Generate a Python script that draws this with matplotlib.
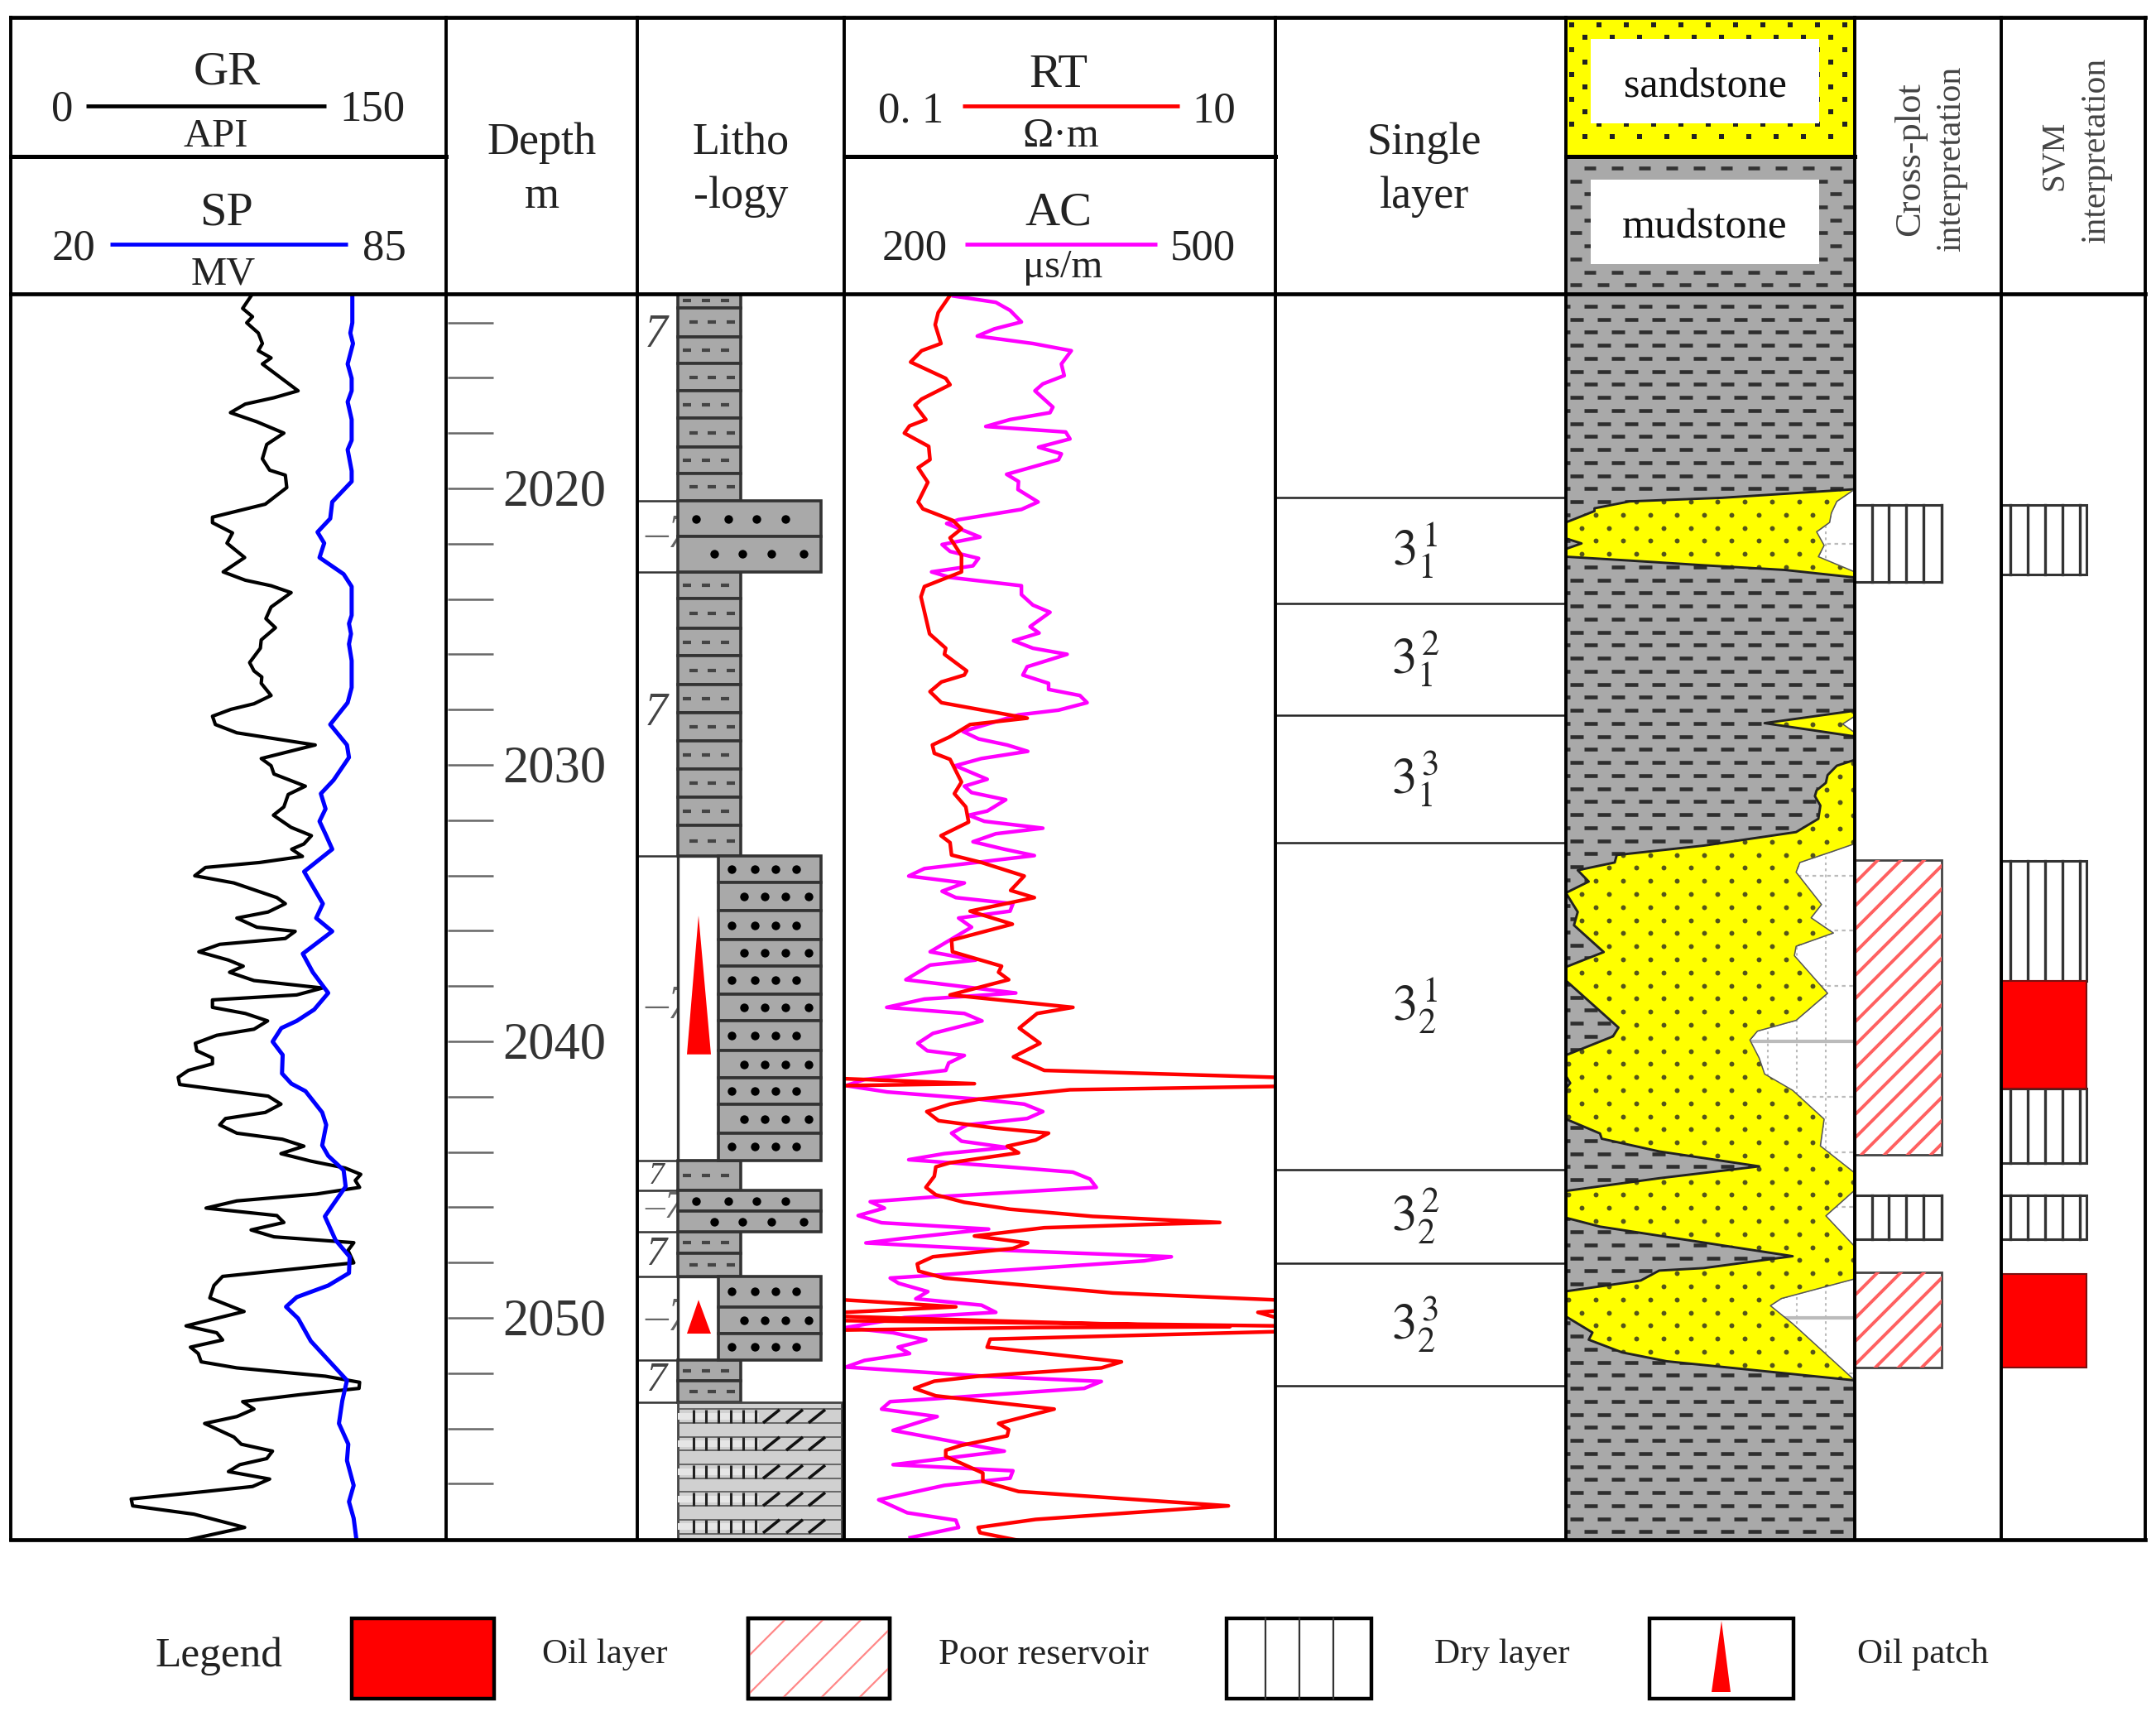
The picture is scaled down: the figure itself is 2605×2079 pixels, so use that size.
import numpy as np
import matplotlib
matplotlib.use('Agg')
import matplotlib.pyplot as plt
from matplotlib.patches import Rectangle, Polygon

plt.rcParams['font.family'] = ['Liberation Serif', 'DejaVu Serif']
plt.rcParams['mathtext.fontset'] = 'stix'

W, H = 2605, 2079
D_TOP, D_BOT = 2012.964, 2058.024
PX_PER_M = 33.4

# ---------- well log curves ----------
gr_depth = [2013.04,2013.49,2013.79,2014.01,2014.38,2014.76,2015.02,2015.28,2015.5,2016.47,2016.72,2016.95,2017.26,2017.59,2018.0,2018.41,2018.93,2019.34,2019.52,2019.97,2020.57,2021.04,2021.24,2021.61,2021.98,2022.5,2023.02,2023.32,2023.52,2023.77,2024.29,2024.71,2025.04,2025.48,2025.78,2026.3,2026.6,2026.82,2027.05,2027.49,2027.79,2027.99,2028.24,2028.54,2028.84,2029.28,2029.77,2030.03,2030.33,2030.77,2031.07,2031.52,2031.82,2032.26,2032.56,2032.86,2033.05,2033.31,2033.53,2033.71,2034.01,2034.27,2034.8,2035.02,2035.32,2035.54,
            2035.87,2036.02,2036.28,2036.49,2036.76,2037.06,2037.28,2037.5,2037.8,2038.07,2038.32,2038.5,2038.77,2038.99,2039.26,2039.56,2039.78,2040.07,2040.34,2040.6,2040.81,2041.05,2041.3,2041.56,2041.98,2042.27,2042.57,2042.79,2043.02,2043.32,2043.54,2043.79,2044.06,2044.33,2044.58,2044.81,2045.03,2045.28,2045.52,2045.77,2046.03,2046.3,2046.55,2046.82,2047.07,2047.28,2047.56,2048.01,2048.5,2048.83,2049.28,2049.77,2050.29,2050.54,2050.8,2051.06,2051.29,2051.59,2051.81,2052.11,2052.33,2052.55,2052.78,2053.03,2053.3,2053.57,2053.82,2054.31,2054.57,2054.82,2055.09,2055.31,2055.56,2055.83,2056.1,2056.28,2056.55,2056.8,2057.1,2057.58,2058.07]
gr_api = [82.8,79.9,83.3,81.3,85.3,86.7,85.3,89.7,86.7,99.0,90.7,80.8,75.7,84.8,94.1,88.2,86.7,89.2,94.6,95.1,87.7,69.5,69.5,76.4,74.5,80.6,73.2,80.8,89.7,96.6,89.7,87.9,91.2,86.3,86.0,82.3,83.8,86.5,86.3,89.7,83.8,75.9,69.5,70.5,77.9,104.9,86.3,89.7,90.7,101.5,95.6,94.1,90.5,96.6,103.6,101.0,96.8,100.5,85.8,67.1,63.4,76.9,91.7,94.6,88.7,77.9,
          84.8,98.0,94.6,72.0,64.8,75.0,80.1,75.4,83.8,107.4,98.5,69.5,69.5,80.8,88.5,83.8,71.0,63.6,64.1,69.5,69.5,61.2,57.7,58.2,88.7,93.1,87.7,74.0,72.0,77.9,93.6,101.0,93.1,103.4,115.2,120.6,118.7,120.2,105.4,77.9,67.3,91.7,94.1,82.8,90.7,118.2,116.2,118.2,73.0,70.0,68.6,80.4,60.4,71.0,73.0,61.9,64.6,65.6,77.9,108.4,120.2,120.0,99.5,79.9,83.8,77.9,66.8,76.9,79.4,90.2,88.2,78.9,75.0,89.2,83.3,67.1,41.5,42.0,63.1,80.6,59.2]

sp_depth = [2013.04,2014.01,2014.38,2014.76,2015.5,2016.02,2016.47,2016.87,2017.51,2018.26,2018.6,2019.37,2019.75,2020.49,2021.09,2021.58,2021.98,2022.5,2023.1,2023.55,2024.59,2024.89,2025.26,2025.63,2026.23,2027.2,2027.75,2028.54,2029.28,2029.73,2030.55,2031.04,2031.59,2032.04,2032.56,2033.05,2033.86,2035.02,2035.54,
            2036.02,2036.83,2037.5,2038.25,2038.85,2039.26,2039.52,2040.01,2040.49,2041.16,2041.53,2041.8,2042.57,2043.02,2043.76,2044.14,2044.66,2045.25,2046.33,2047.19,2047.79,2048.38,2048.83,2049.25,2049.6,2050.02,2050.84,2052.26,2053.0,2053.82,2054.57,2055.16,2056.06,2056.65,2057.25,2058.0]
sp_mv = [71.0,71.0,70.7,71.1,70.3,70.9,70.9,70.3,70.9,70.9,70.3,70.9,70.9,68.0,67.7,65.8,66.8,66.1,69.7,70.9,70.9,70.5,70.8,70.5,70.9,70.9,70.3,67.7,70.2,70.5,68.2,66.3,67.0,66.1,67.1,68.0,63.8,66.6,65.6,
         68.0,63.6,65.1,67.4,65.3,62.7,60.4,59.1,60.6,60.5,61.9,64.0,66.5,67.1,66.5,67.4,69.7,70.0,66.9,68.5,70.6,70.5,67.4,62.7,61.1,62.9,64.8,70.2,69.5,69.0,70.4,70.2,71.2,70.5,71.2,71.6]

nan = float('nan')
# RT is stored as log10(ohm.m); it wraps round the 0.1-10 scale, so it has breaks
rt_depth = [2013.04,2013.64,2014.08,2014.76,2015.02,2015.43,2016.02,2016.25,2016.77,2016.99,2017.51,2017.74,2018.0,2018.48,2018.96,2019.25,2019.78,2020.49,2020.74,2021.16,2021.46,2021.79,2022.43,2023.02,2023.55,2023.92,2025.26,2025.78,2026.0,2026.6,2026.75,2027.0,2027.35,2027.75,2028.31,2028.54,2028.98,2029.28,2029.58,2029.8,2030.62,2031.04,2031.52,2032.07,2032.56,2032.81,2033.26,2033.53,2034.02,2034.54,2034.8,2035.29,2035.76,
            2036.34,2036.76,2037.28,2037.5,2037.77,2038.32,2038.77,2038.99,2039.52,2040.07,2040.56,2041.05,2041.3,nan,
            2041.35,2041.53,2041.6,nan,
            2041.63,2041.75,2042.09,2042.27,2042.54,2042.87,2043.14,2043.32,2043.57,2043.79,2044.03,2044.18,2044.39,2044.54,2044.88,2045.28,2045.55,2045.82,2046.07,2046.33,2046.55,2046.62,2046.74,2047.04,2047.29,2047.49,2047.79,2048.05,2048.31,2048.56,2049.1,2049.35,nan,
            2049.35,2049.6,2049.8,nan,
            2049.75,2049.8,2049.98,nan,
            2049.95,2050.21,2050.32,2050.35,2050.44,nan,
            2050.1,2050.29,nan,
            2050.5,2050.77,2051.06,2051.59,2051.81,2052.11,2052.29,2052.55,2052.82,2053.3,2053.82,2054.04,2054.27,2054.61,2054.79,2055.01,2055.61,2055.91,2056.28,2056.8,2057.29,2057.58,2057.77,2058.07]
rt_log10 = [-0.511,-0.564,-0.578,-0.551,-0.641,-0.692,-0.529,-0.509,-0.641,-0.672,-0.621,-0.697,-0.721,-0.608,-0.602,-0.657,-0.612,-0.657,-0.635,-0.496,-0.456,-0.509,-0.456,-0.456,-0.628,-0.644,-0.604,-0.529,-0.535,-0.432,-0.443,-0.549,-0.602,-0.549,-0.151,-0.416,-0.509,-0.591,-0.582,-0.509,-0.456,-0.489,-0.436,-0.423,-0.551,-0.509,-0.502,-0.363,-0.165,-0.228,-0.118,-0.416,-0.220,
            -0.502,-0.498,-0.270,-0.284,-0.237,-0.509,0.061,-0.105,-0.188,-0.092,-0.215,-0.072,1.0,nan,
            -1.0,-0.396,-1.0,nan,
            1.0,0.047,-0.376,-0.509,-0.617,-0.562,-0.297,-0.052,-0.112,-0.244,-0.191,-0.323,-0.509,-0.575,-0.582,-0.621,-0.575,-0.443,-0.231,0.153,0.742,0.418,-0.072,-0.396,-0.149,-0.218,-0.588,-0.661,-0.654,-0.535,0.246,1.0,nan,
            -1.0,-0.482,-1.0,nan,
            1.0,0.919,1.0,nan,
            -1.0,0.153,0.789,-0.112,-1.0,nan,
            -1.0,1.0,nan,
            1.0,-0.323,-0.337,0.286,0.193,-0.376,-0.582,-0.674,-0.575,-0.026,-0.284,-0.237,-0.244,-0.456,-0.529,-0.529,-0.357,-0.357,-0.191,0.782,-0.112,-0.379,-0.370,-0.178]

ac_depth = [2013.04,2013.27,2013.56,2013.98,2014.23,2014.49,2014.76,2015.02,2015.5,2015.92,2016.22,2016.47,2017.06,2017.26,2017.51,2017.76,2017.96,2018.21,2018.51,2018.75,2018.96,2019.49,2019.75,2020.04,2020.49,2020.76,2021.13,2021.27,2021.76,2022.03,2022.28,2022.53,2022.8,2023.02,2023.22,2023.52,2023.84,2024.22,2024.48,2025.0,2025.23,2025.51,2025.78,2026.0,2026.45,2026.75,2027.05,2027.27,2027.49,2027.75,2028.02,2028.19,2028.79,2029.06,2029.28,2029.51,2029.77,2030.03,2030.52,2030.77,2031.0,2031.26,2031.67,2031.82,2032.04,2032.29,2032.49,2032.78,2033.05,2033.28,2033.75,2034.02,2034.27,2034.57,2034.8,2035.02,2035.29,2035.54,
            2035.87,2036.76,2037.06,2037.24,2037.77,2038.25,2038.47,2038.77,2038.99,2039.26,2039.71,2040.07,2040.34,2040.51,2040.78,2041.05,2041.38,2041.6,2041.83,2042.09,2042.27,2042.54,2042.79,2043.02,2043.32,2043.61,2043.84,2044.06,2044.28,2044.54,2044.73,2044.98,2045.28,2045.63,2045.8,2046.03,2046.3,2046.56,2046.79,2047.12,2047.29,2047.56,2047.79,2047.94,2048.46,2048.56,2048.75,2049.05,2049.31,2049.54,2049.8,2049.99,2050.35,2050.54,2050.8,2051.06,2051.29,2051.54,2051.78,2052.11,2052.3,2052.55,2052.93,2053.03,2053.3,2053.57,2054.07,2054.82,2055.31,2055.53,2055.8,2056.06,2056.58,2057.05,2057.32,2057.58,2057.95]
ac_us = [276,305.5,315.4,323.3,304.5,292.6,331.3,358,351.1,353.1,338.2,332.7,345.2,343.2,315.4,298.5,354.1,357.1,335.2,351.1,349.1,313,321.3,320.9,334.9,323.3,279.6,271.3,294.5,268.1,273.7,293.5,289.6,260.8,273.7,323.3,323.3,331.3,343.2,329.3,335.6,317.8,331.3,355.1,327.3,324.3,342.2,342.2,364,369,349.1,321.3,282.6,293.5,313.4,327.7,295.5,277.3,299.5,283.6,288.6,312.4,299.5,286.6,297.5,338.2,305.5,289.6,311.4,332.3,255.8,244.9,283.6,268.1,277.7,317.4,315.4,279.6,
         288.6,259.8,291.5,259.8,242.9,319.4,255.8,229.6,283.6,295.9,261.8,251.2,257.8,283.6,272.7,270.7,214.1,201.2,230,293.5,325.3,338.2,327.3,285.6,274.7,281.6,313.4,269.7,244.9,313.4,359.1,371,375.4,261.8,218.1,228,209.7,226,300.5,241.9,215.1,313.4,427.6,408.7,261.8,232,237.9,258.2,249.8,295.5,305.5,241.9,201.2,234,256.8,237.5,245.5,214.1,201.2,297.5,378.9,367,261.8,232,226,264.7,234,311.4,234,317.4,315.4,269.7,224,243.9,277.7,279.6,245.9]

# ---------- depth axis ----------
depth_minor = list(range(2014, 2058, 2))
depth_major = [2020, 2030, 2040, 2050]

# ---------- single layers ----------
layer_bounds = [2020.33, 2024.16, 2028.2, 2032.81, 2044.64, 2048.02, 2052.46]
layer_labels = [r'$3_{1}^{\,1}$', r'$3_{1}^{\,2}$', r'$3_{1}^{\,3}$', r'$3_{2}^{\,1}$', r'$3_{2}^{\,2}$', r'$3_{2}^{\,3}$']

# ---------- sand bodies in the sand/mud profile (percent of the track) ----------
b1_left_pct = [100,54.1,22.1,9.9,9.9,0,0,5.4,0,0,22.1,47.7,75.9,100]
b1_left_d = [2020.03,2020.34,2020.47,2020.72,2020.82,2021.23,2021.81,2021.99,2022.19,2022.47,2022.61,2022.78,2022.95,2023.22]
b1_right_pct = [100,93.8,91.9,91.3,86.8,89.4,87.4,100,100]
b1_right_d = [2020.03,2020.47,2020.89,2021.23,2021.57,2022.06,2022.47,2023.02,2023.22]
b2_left_pct = [100,68.8,100]
b2_left_d = [2028.04,2028.49,2028.97]
b2_right_pct = [100,100,95.8,100,100]
b2_right_d = [2028.04,2028.24,2028.52,2028.83,2028.97]
b3_left_pct = [100,93.8,90.6,90,86.8,86.2,88.1,87.4,79.7,47.7,17.6,16.9,4.1,7.9,0,4.1,2.8,13.1,0,0,18.2,16.3,0,0,1.5,0,0,11.8,12.4,32.3,66.9,32.3,0,0,11.8,78.5,47.7,32.3,25.9,0,0,9.2,7.9,19.5,34.9,100]
b3_left_d = [2029.82,2030.03,2030.37,2030.65,2030.92,2031.13,2031.47,2031.95,2032.43,2032.92,2033.26,2033.53,2033.81,2034.22,2034.63,2035.32,2035.8,2036.77,2037.31,2037.8,2039.5,2039.82,2040.5,2041.25,2041.51,2041.7,2042.81,2043.33,2043.52,2043.98,2044.52,2044.95,2045.41,2046.38,2046.7,2047.77,2048.2,2048.29,2048.65,2049.04,2049.95,2050.53,2050.79,2051.25,2051.57,2052.26]
b3_right_pct = [100,100,92.6,81,79.7,88.5,84.9,92.6,79.7,79.1,90.6,79.7,66.3,63.7,66.9,68.8,78.5,89.4,88.1,100,100,90,100,100,74.6,70.8,78.5,100]
b3_right_d = [2029.82,2032.85,2033.12,2033.53,2033.88,2035.05,2035.53,2036.08,2036.56,2036.9,2038.26,2039.24,2039.63,2039.95,2040.6,2041.18,2041.77,2042.81,2043.78,2044.76,2045.38,2046.31,2047.42,2048.59,2049.3,2049.56,2050.21,2052.26]

# ---------- lithology column: row boundaries of each layer ----------
shale_rows = [[2012.964,2013.47,2014.52,2015.48,2016.47,2017.46,2018.5,2019.46,2020.45],
              [2023.02,2023.98,2025.06,2026.05,2027.1,2028.11,2029.13,2030.15,2031.17,2032.19,2033.29],
              [2044.31,2045.39],
              [2046.89,2047.67,2048.5],
              [2051.53,2052.28,2053.05]]
sand_full_rows = [[2020.45,2021.74,2023.02],[2045.39,2046.14,2046.89]]
sand_oil_rows = [[2033.29,2034.25,2035.27,2036.32,2037.28,2038.29,2039.25,2040.33,2041.32,2042.28,2043.32,2044.31],
                 [2048.5,2049.6,2050.57,2051.53]]
oil_patch_top = [2035.45, 2049.35]
oil_patch_base = [2040.47, 2050.57]
limy_top, limy_base = 2053.05, 2058.024
limy_rows = [2053.56, 2054.55, 2055.57, 2056.56, 2057.54]
lith_seven_d = [2014.46, 2028.14, 2044.88, 2047.72, 2052.28]
lith_seven_size = [40, 40, 27, 36, 36]
lith_dash_d = [2021.71, 2038.74, 2046.05, 2050.03]
lith_dash_size = [40, 40, 34, 40]
lith_box_lines = [2020.45, 2023.02, 2033.29, 2044.31, 2045.39, 2046.89, 2048.5, 2051.53, 2053.05]

# ---------- interpretation results ----------
cross_top = [2020.61, 2033.44, 2045.57, 2048.35]
cross_base = [2023.38, 2044.10, 2047.16, 2051.80]
cross_kind = ['dry', 'poor', 'dry', 'poor']
svm_top = [2020.61, 2033.47, 2037.80, 2041.70, 2045.57, 2048.40]
svm_base = [2023.11, 2037.80, 2041.70, 2044.40, 2047.16, 2051.80]
svm_kind = ['dry', 'dry', 'oil', 'dry', 'dry', 'oil']

legend_items = ['Oil layer', 'Poor reservoir', 'Dry layer', 'Oil patch']

RED, YELLOW, MUD = '#ff0000', '#ffff00', '#a9a9a9'

fig = plt.figure(figsize=(W / 100, H / 100), dpi=100, facecolor='white')


def track(x0, x1, xlim, z, xscale='linear'):
    ax = fig.add_axes([x0 / W, 1 - 1860 / H, (x1 - x0) / W, (1860 - 355) / H], zorder=z)
    if xscale == 'log':
        ax.set_xscale('log')
    ax.set_xlim(*xlim)
    ax.set_ylim(D_BOT, D_TOP)
    ax.axis('off')
    return ax


# ---------- band axes: x in image pixels, y in depth ----------
band = track(0, W, (0, W), 1)
for d in depth_minor:
    band.plot([541, 596], [d, d], color='#666666', lw=1.8, solid_capstyle='butt')
for d in depth_major:
    band.text(670, d + 0.15, str(d), fontsize=45, color='#333333', ha='center', va='center')
for d in layer_bounds:
    band.plot([1541, 1892], [d, d], color='#222222', lw=1.8)
mids = [(a + b) / 2 for a, b in zip(layer_bounds[:-1], layer_bounds[1:])]
for lab, d in zip(layer_labels, mids):
    band.text(1710, d, lab, fontsize=44, color='#222222', ha='center', va='center')

# lithology column
for d, s in zip(lith_seven_d, lith_seven_size):
    band.text(793, d, '7', fontsize=s, style='italic', color='#444444', ha='center', va='center', zorder=1)
for d, s in zip(lith_dash_d, lith_dash_size):
    band.text(779, d, '–7', fontsize=s, style='italic', color='#666666', ha='left', va='center', zorder=1)


def rows(x0, x1, edges, kind):
    for i, (a, b) in enumerate(zip(edges[:-1], edges[1:])):
        band.add_patch(Rectangle((x0, a), x1 - x0, b - a, fc=MUD, ec='#333333', lw=2.6, zorder=3))
        m = (a + b) / 2
        if kind == 'shale':
            xs = [838, 860, 883] if i % 2 else [830, 853, 876]
            for x in xs:
                band.plot([x - 5, x + 5], [m, m], color='#444444', lw=3.0, zorder=4, solid_capstyle='butt')
        else:
            if x0 < 850:
                xs = [863, 897, 932, 971] if i % 2 else [841, 880, 914, 949]
            else:
                xs = [899, 924, 949, 977] if i % 2 else [884, 912, 937, 962]
            band.scatter(xs, [m] * 4, s=56, color='black', zorder=4, lw=0)


for e in shale_rows:
    rows(819, 895, e, 'shale')
for e in sand_full_rows:
    rows(819, 992, e, 'sand')
for e in sand_oil_rows:
    band.add_patch(Rectangle((819, e[0]), 49, e[-1] - e[0], fc='white', ec='#333333', lw=2.4, zorder=2))
    rows(868, 992, e, 'sand')
for a, b in zip(oil_patch_top, oil_patch_base):
    band.add_patch(Polygon([(844, a), (830, b), (859, b)], closed=True, fc=RED, ec='none', zorder=5))
for d in lith_box_lines:
    band.plot([770, 819], [d, d], color='#333333', lw=1.8, zorder=2)

band.add_patch(Rectangle((819, limy_top), 198, limy_base - limy_top, fc='#d0d0d0', ec='#444444', lw=2, zorder=3))
for d in np.arange(limy_top + 0.25, limy_base, 0.5):
    band.plot([819, 1017], [d, d], color='#555555', lw=1.2, zorder=4)
for d in limy_rows:
    band.fill_between([819, 917], d - 0.12, d + 0.12, color='#e6e6e6', zorder=4, lw=0)
    for x in [838, 853, 868, 883, 898, 913]:
        band.plot([x, x], [d - 0.24, d + 0.24], color='#222222', lw=2.2, zorder=5, solid_capstyle='butt')
    for x in [932, 960, 987]:
        band.plot([x - 10, x + 10], [d + 0.24, d - 0.24], color='#111111', lw=2.6, zorder=5, solid_capstyle='butt')


def poor_box(ax, x0, x1, y0, y1, to_px, step, color='#ff6060', lw=2.8):
    r = Rectangle((x0, y0), x1 - x0, y1 - y0, fc='white', ec='#444444', lw=2, zorder=3)
    ax.add_patch(r)
    hpx = abs(y1 - y0) * to_px
    for c in np.arange(-hpx, x1 - x0, step):
        ln, = ax.plot([x0 + c, x0 + c + hpx], [y1, y0], color=color, lw=lw, zorder=4)
        ln.set_clip_path(r)


def dry_box(ax, x0, x1, y0, y1, xs, lw=2.4):
    ax.add_patch(Rectangle((x0, y0), x1 - x0, y1 - y0, fc='white', ec='#333333', lw=2.2, zorder=3))
    for x in xs:
        ax.plot([x, x], [y0, y1], color='#333333', lw=lw, zorder=4)


for a, b, k in zip(cross_top, cross_base, cross_kind):
    if k == 'dry':
        dry_box(band, 2241, 2346, a, b, [2262, 2282, 2303, 2324, 2346])
    else:
        poor_box(band, 2241, 2346, a, b, PX_PER_M, 28)
for a, b, k in zip(svm_top, svm_base, svm_kind):
    if k == 'dry':
        dry_box(band, 2418, 2521, a, b, [2429, 2450, 2471, 2492, 2513], lw=2.4)
    else:
        band.add_patch(Rectangle((2418, a), 103, b - a, fc=RED, ec='#7a1010', lw=1.5, zorder=5))

# ---------- sand / mud profile ----------
prof = track(1892, 2241, (0, 100), 2)
prof.add_patch(Rectangle((0, D_TOP), 100, D_BOT - D_TOP, fc=MUD, ec='none', zorder=0))
row_d = 2020 + (574.7 - 590) / PX_PER_M + np.arange(-14, 83) * 15.75 / PX_PER_M
for i, d in enumerate(row_d):
    xs = (np.arange(-1, 12) * 33 + (1905 if i % 2 == 0 else 1922) - 1892) / 3.49
    prof.hlines([d] * len(xs), xs - 2.2, xs + 2.2, color='#2e2e2e', lw=3.3, zorder=1)


def sand_body(lp, ld, rp, rd):
    lp, ld, rp, rd = map(np.array, (lp, ld, rp, rd))
    white = prof.fill_betweenx(rd, rp, 100, color='white', lw=0, zorder=2)
    path = white.get_paths()[0]
    for d in np.arange(2014, 2058, 2):
        major = d % 10 == 0
        ln, = prof.plot([60, 100], [d, d], color='#bbbbbb', lw=3 if major else 1.6,
                        ls='-' if major else (0, (2, 2)), zorder=3)
        ln.set_clip_path(path, prof.transData)
    for x in [70, 80, 90]:
        ln, = prof.plot([x, x], [rd[0], rd[-1]], color='#bbbbbb', lw=1.5, ls=(0, (1.5, 2)), zorder=3)
        ln.set_clip_path(path, prof.transData)
    poly = prof.fill(np.r_[lp, rp[::-1]], np.r_[ld, rd[::-1]], color=YELLOW, lw=0, zorder=4)[0]
    dy = 2020 + (606 - 590) / PX_PER_M + np.arange(-10, 80) * 15.8 / PX_PER_M
    for i, d in enumerate(dy):
        xs = (np.arange(-1, 12) * 32.8 + (1911.3 if i % 2 == 0 else 1928) - 1892) / 3.49
        dots = prof.scatter(xs, [d] * len(xs), s=18, color='#55551a', lw=0, zorder=5)
        dots.set_clip_path(poly)
    prof.plot(lp, ld, color='#222222', lw=2.1, zorder=6)
    prof.plot(rp, rd, color='#555555', lw=1.1, zorder=6)


sand_body(b1_left_pct, b1_left_d, b1_right_pct, b1_right_d)
sand_body(b2_left_pct, b2_left_d, b2_right_pct, b2_right_d)
sand_body(b3_left_pct, b3_left_d, b3_right_pct, b3_right_d)

# ---------- curves ----------
ax_gr = track(13, 539, (0, 150), 3)
ax_gr.plot(gr_api, gr_depth, color='black', lw=3.0, solid_joinstyle='round')
ax_sp = track(13, 539, (20, 85), 4)
ax_sp.plot(sp_mv, sp_depth, color='#0000ff', lw=3.6, solid_joinstyle='round')
ax_ac = track(1020, 1541, (200, 500), 3)
ax_ac.plot(ac_us, ac_depth, color='#ff00ff', lw=3.2, solid_joinstyle='round')
ax_rt = track(1020, 1541, (0.1, 10), 4, 'log')
ax_rt.plot(10.0 ** np.array(rt_log10), rt_depth, color='#ff0000', lw=3.2, solid_joinstyle='round')

# ---------- header, frame, legend: image pixel axes on top ----------
top = fig.add_axes([0, 0, 1, 1], zorder=10)
top.set_xlim(0, W)
top.set_ylim(H, 0)
top.axis('off')

top.add_patch(Rectangle((1892, 21), 349, 167, fc=YELLOW, ec='none', zorder=1))
top.add_patch(Rectangle((1892, 189), 349, 166, fc=MUD, ec='none', zorder=1))
for i, y in enumerate(np.arange(30, 180, 15)):
    xs = np.arange(-1, 12) * 33 + (1932 if i % 2 == 0 else 1915)
    xs = xs[(xs > 1892) & (xs < 2240)]
    top.scatter(xs, [y] * len(xs), s=13, marker='s', color='#222222', lw=0, zorder=2)
for i, y in enumerate(np.arange(203, 352, 15.7)):
    xs = np.arange(-1, 12) * 33 + (1921 if i % 2 == 0 else 1904)
    xs = xs[(xs > 1892) & (xs < 2236)]
    top.hlines([y] * len(xs), xs - 7, xs + 7, color='#333333', lw=3.3, zorder=2)
top.add_patch(Rectangle((1922, 47), 276, 102, fc='white', ec='none', zorder=3))
top.add_patch(Rectangle((1922, 217), 276, 102, fc='white', ec='none', zorder=3))

col_x = [13, 539, 770, 1020, 1541, 1892, 2241, 2418, 2592]
for x in col_x:
    top.plot([x, x], [21, 1860], color='black', lw=2.8, solid_capstyle='projecting', zorder=6)
for y in [21, 355, 1860]:
    top.plot([13, 2592], [y, y], color='black', lw=3.4, solid_capstyle='projecting', zorder=6)
for a, b in [(13, 539), (1020, 1541), (1892, 2241)]:
    top.plot([a, b], [189, 189], color='black', lw=3.6, zorder=6)

top.plot([104, 394], [128, 128], color='black', lw=3.4, solid_capstyle='butt')
top.plot([133, 420], [295, 295], color='#0000ff', lw=3.4, solid_capstyle='butt')
top.plot([1163, 1425], [128, 128], color='#ff0000', lw=3.4, solid_capstyle='butt')
top.plot([1166, 1398], [295, 295], color='#ff00ff', lw=3.4, solid_capstyle='butt')


def T(x, y, s, size=40, rot=0, color='#222222', z=7):
    top.text(x, y + 5, s, fontsize=size, rotation=rot, color=color, ha='center', va='center', zorder=z)


T(274, 83, 'GR', 42); T(75, 128, '0', 38); T(450, 128, '150', 38); T(261, 160, 'API', 35)
T(274, 252, 'SP', 42); T(89, 295, '20', 38); T(464, 295, '85', 38); T(270, 326, 'MV', 35)
T(655, 168, 'Depth', 39); T(655, 233, 'm', 39)
T(895, 168, 'Litho', 39); T(895, 233, '-logy', 39)
T(1279, 86, 'RT', 42); T(1101, 129, '0. 1', 38); T(1467, 129, '10', 38); T(1282, 160, 'Ω·m', 36)
T(1279, 252, 'AC', 42); T(1105, 295, '200', 38); T(1453, 295, '500', 38); T(1284, 318, 'μs/m', 35)
T(1721, 168, 'Single', 39); T(1721, 233, 'layer', 39)
T(2060, 100, 'sandstone', 36, color='#111111'); T(2060, 270, 'mudstone', 37, color='#111111')
T(2308, 187, 'Cross-plot', 32, 90, '#444444'); T(2358, 187, 'interpretation', 30, 90, '#444444')
T(2483, 183, 'SVM', 28, 90, '#444444'); T(2533, 177, 'interpretation', 30, 90, '#444444')

# legend
T(264, 1996, 'Legend', 37)
T(731, 1994, legend_items[0], 31); T(1261, 1994, legend_items[1], 32)
T(1815, 1994, legend_items[2], 31); T(2323, 1994, legend_items[3], 31)
box_kw = dict(fc='white', ec='black', lw=3.2, zorder=3)
top.add_patch(Rectangle((425, 1955), 172, 97, fc=RED, ec='black', lw=3.2, zorder=3))
r = Rectangle((904, 1955), 171, 97, **box_kw)
top.add_patch(r)
for c in np.arange(-97, 171, 46):
    ln, = top.plot([904 + c, 904 + c + 97], [2052, 1955], color='#ff8888', lw=1.6, zorder=4)
    ln.set_clip_path(r)
top.add_patch(Rectangle((904, 1955), 171, 97, fc='none', ec='black', lw=3.2, zorder=5))
top.add_patch(Rectangle((1482, 1955), 175, 97, **box_kw))
for x in [1529, 1570, 1611]:
    top.plot([x, x], [1955, 2052], color='#333333', lw=1.6, zorder=4)
top.add_patch(Rectangle((1993, 1955), 174, 97, **box_kw))
top.add_patch(Polygon([(2080, 1958), (2068, 2044), (2091, 2044)], closed=True, fc=RED, ec='none', zorder=4))

fig.savefig('out.png', dpi=100, facecolor='white')
